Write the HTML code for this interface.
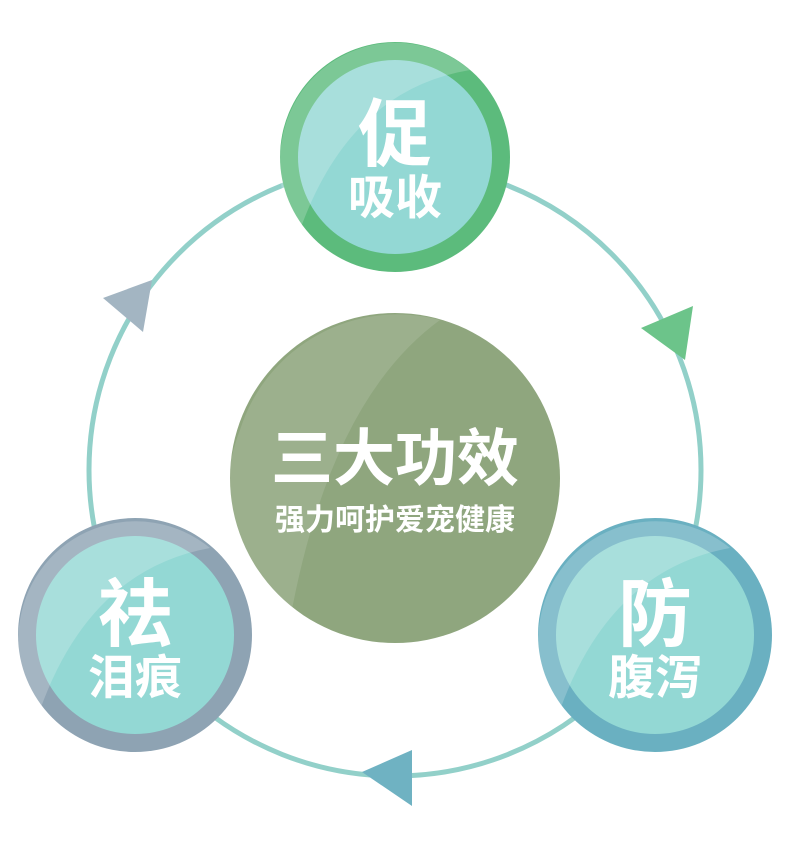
<!DOCTYPE html>
<html><head><meta charset="utf-8"><style>
html,body{margin:0;padding:0;background:#fff;}
svg{display:block}
text{font-family:"Liberation Sans","Noto Sans CJK SC",sans-serif;font-weight:bold;fill:#fff;text-anchor:middle}
</style></head><body>
<svg width="790" height="862" viewBox="0 0 790 862">
<circle cx="395" cy="470" r="306" fill="none" stroke="#92d0c9" stroke-width="5"/>
<polygon points="641,328 693,306 685,360" fill="#6cc48a"/>
<polygon points="103,298 152,280 143,332" fill="#a3b5c2"/>
<polygon points="362,772 412,750 412,806" fill="#6fb2c2"/>
<circle cx="395" cy="478" r="165" fill="#8fa67e"/>
<path d="M240,430 A165,165 0 0 1 440,320 Q330,400 290,620 A165,165 0 0 1 240,430Z" fill="#ffffff" opacity="0.12"/>
<text x="395" y="480" font-size="62">三大功效</text>
<text x="395" y="530" font-size="30">强力呵护爱宠健康</text>

<circle cx="395" cy="157" r="115" fill="#5cbb7c"/>
<circle cx="395" cy="157" r="97" fill="#93d8d4"/>
<path d="M282,140 A115,115 0 0 1 470,70 Q350,90 300,230 A115,115 0 0 1 282,140Z" fill="#fff" opacity="0.2"/>
<text x="395" y="160" font-size="74">促</text>
<text x="395" y="214" font-size="47">吸收</text>

<circle cx="135" cy="635" r="117" fill="#8ea3b3"/>
<circle cx="135" cy="635" r="99" fill="#93d8d4"/>
<path d="M20,620 A117,117 0 0 1 210,548 Q90,570 40,710 A117,117 0 0 1 20,620Z" fill="#fff" opacity="0.2"/>
<text x="135" y="640" font-size="74">祛</text>
<text x="135" y="694" font-size="47">泪痕</text>

<circle cx="655" cy="635" r="117" fill="#6ab0c1"/>
<circle cx="655" cy="635" r="99" fill="#93d8d4"/>
<path d="M540,620 A117,117 0 0 1 730,548 Q610,570 560,710 A117,117 0 0 1 540,620Z" fill="#fff" opacity="0.2"/>
<text x="655" y="640" font-size="74">防</text>
<text x="655" y="694" font-size="47">腹泻</text>
</svg>
</body></html>
